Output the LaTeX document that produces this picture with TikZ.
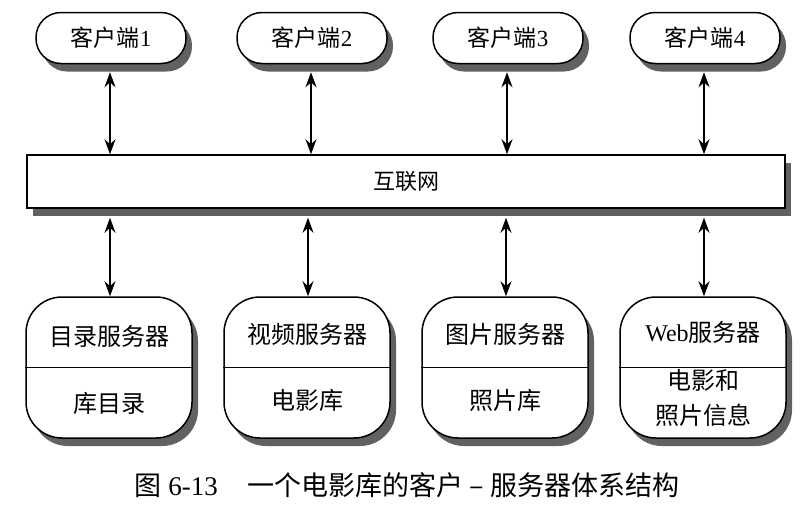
\documentclass[tikz,border=0pt]{standalone}
\usepackage{fontspec}
\setmainfont{Liberation Serif}
\newfontfamily\cjk{Noto Sans CJK SC}
\usetikzlibrary{shadows,arrows.meta}
\begin{document}
\begin{tikzpicture}[x=1pt,y=-1pt,
  shd/.style={drop shadow={shadow xshift=6pt, shadow yshift=-8pt, fill=black!62, opacity=1}},
  pill/.style={draw, line width=1.5pt, fill=white, rounded corners=25pt,
    minimum width=150pt, minimum height=51pt, shd,
    font=\fontsize{23}{27}\selectfont},
  server/.style={draw, line width=1.5pt, fill=white, rounded corners=36pt,
    minimum width=166pt, minimum height=141pt, shd},
  bar/.style={draw, line width=1.5pt, fill=white, minimum width=758pt,
    minimum height=53pt, shd, font=\fontsize{22}{26}\selectfont},
  conn/.style={{Stealth[length=15pt,width=11pt]}-{Stealth[length=15pt,width=11pt]}, line width=1.2pt},
  lbl/.style={font=\fontsize{24}{35}\selectfont, inner sep=0pt, align=center},
  captext/.style={font=\fontsize{27}{31}\selectfont, inner sep=0pt}
]
\useasboundingbox (0,0) rectangle (805,504);

% clients
\node[pill] (c1) at (111,38) {{\cjk 客户端}1};
\node[pill] (c2) at (312,38) {{\cjk 客户端}2};
\node[pill] (c3) at (508,38) {{\cjk 客户端}3};
\node[pill] (c4) at (705,38) {{\cjk 客户端}4};

% internet bar
\node[bar] (bar) at (406,181.5) {\cjk 互联网};

% servers
\node[server] (s1) at (109,367.5) {};
\node[server] (s2) at (307,367.5) {};
\node[server] (s3) at (505,367.5) {};
\node[server] (s4) at (703,367.5) {};

\foreach \s in {s1,s2,s3,s4}{
  \draw[line width=0.9pt] (\s.west) -- (\s.east);
}

\node[lbl] (t1) at (109,336) {\cjk 目录服务器};
\node[lbl] (t2) at (307,334) {\cjk 视频服务器};
\node[lbl] (t3) at (505,334) {\cjk 图片服务器};
\node[lbl] (t4) at (703,332) {Web{\cjk 服务器}};

\node[lbl] (b1) at (109,403) {\cjk 库目录};
\node[lbl] (b2) at (307,400) {\cjk 电影库};
\node[lbl] (b3) at (505,400) {\cjk 照片库};
\node[lbl] (b4) at (703,398) {\cjk 电影和\\ \cjk 照片信息};

% connectors client -> bar
\foreach \c in {c1,c2,c3,c4}{
  \path (\c.south) ++(-1,8) coordinate (\c top);
  \draw[conn] (\c top) -- (\c top |- bar.north);
}
% connectors bar -> servers
\foreach \s in {s1,s2,s3,s4}{
  \path (bar.south -| \s.north) ++(1,9) coordinate (\s bot);
  \draw[conn] (\s bot) -- (\s bot |- \s.north);
}

% caption
\node[captext] (caption) at (407,485) {{\cjk 图} 6-13\hspace{1.1em}{\cjk 一个电影库的客户 – 服务器体系结构}};
\end{tikzpicture}
\end{document}
